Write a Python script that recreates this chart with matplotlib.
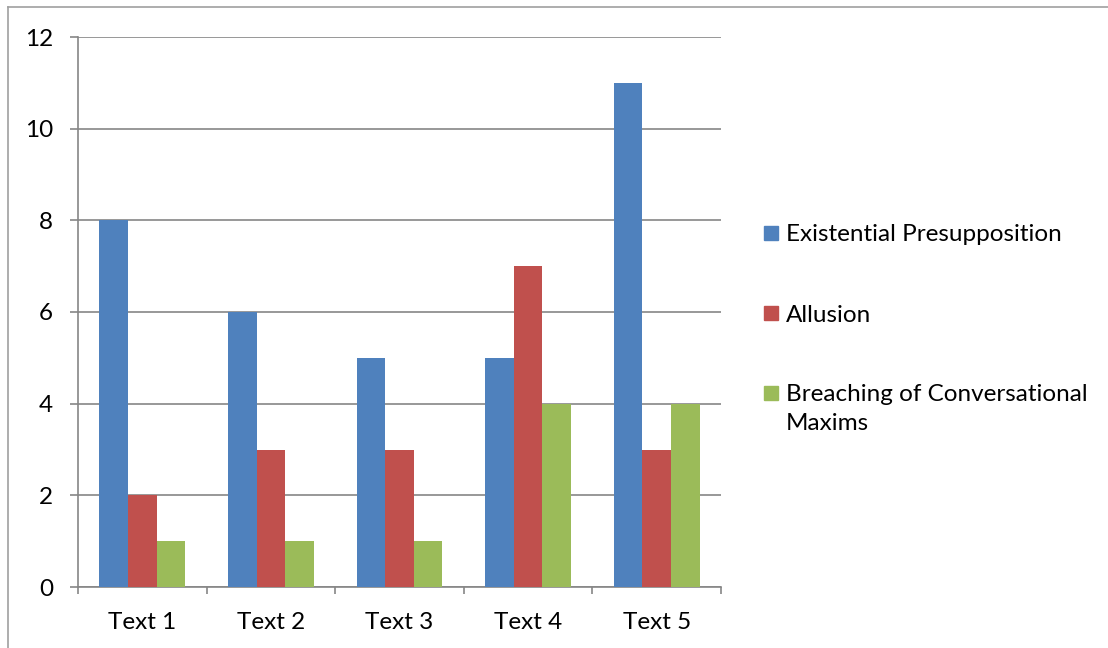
import numpy as np
import matplotlib
matplotlib.use('Agg')
import matplotlib.pyplot as plt
from matplotlib.lines import Line2D
from matplotlib.patches import Rectangle

plt.rcParams['font.family'] = ['Lato', 'DejaVu Sans']

categories = ['Text 1', 'Text 2', 'Text 3', 'Text 4', 'Text 5']
series_names = ['Existential Presupposition', 'Allusion',
                'Breaching of Conversational\nMaxims']
existential = [8, 6, 5, 5, 11]
allusion = [2, 3, 3, 7, 3]
breaching = [1, 1, 1, 4, 4]
colors = ['#4F81BD', '#C0504D', '#9BBB59']
grid_col = '#868686'
fs = 17.5

fig = plt.figure(figsize=(11.08, 6.48), dpi=100)
ax = fig.add_axes([78/1108, 1-587/648, 643/1108, 550/648])

x = np.arange(len(categories))
w = 0.222
for i, vals in enumerate([existential, allusion, breaching]):
    ax.bar(x + (i - 1)*w, vals, width=w, color=colors[i], zorder=3)

ax.set_xlim(-0.5, 4.5)
ax.set_ylim(0, 12)
ax.set_yticks(range(0, 13, 2))
ax.grid(axis='y', color=grid_col, lw=1.2, zorder=0)
ax.set_xticks(x)
ax.set_xticklabels(categories)
ax.set_xticks(np.arange(-0.5, 5, 1), minor=True)
ax.tick_params(axis='x', which='major', length=0, pad=18, labelsize=fs)
ax.tick_params(axis='x', which='minor', length=5, width=1.2, color=grid_col)
ax.tick_params(axis='y', length=6, width=1.2, color=grid_col, pad=12, labelsize=fs)
for s in ['top', 'right']:
    ax.spines[s].set_visible(False)
for s in ['left', 'bottom']:
    ax.spines[s].set_color(grid_col)
    ax.spines[s].set_linewidth(1.2)

# legend drawn by hand so the wrapped entry keeps its square on the first line
leg_y = [233, 313, 393]
for name, c, yy in zip(series_names, colors, leg_y):
    fig.patches.append(Rectangle((764/1108, 1-(yy+7)/648), 14/1108, 14/648,
                                 transform=fig.transFigure, color=c))
    if '\n' in name:
        fig.text(786/1108, 1-(yy-9)/648, name, fontsize=fs, va='top',
                 ha='left', linespacing=1.5)
    else:
        fig.text(786/1108, 1-(yy+2)/648, name, fontsize=fs, va='center', ha='left')

# outer chart frame
fig.add_artist(Line2D([8/1108, 8/1108], [0, 1-7/648], color='#a0a0a0', lw=1.2))
fig.add_artist(Line2D([8/1108, 1], [1-7/648, 1-7/648], color='#a0a0a0', lw=1.2))

fig.savefig('out.png', dpi=100)
